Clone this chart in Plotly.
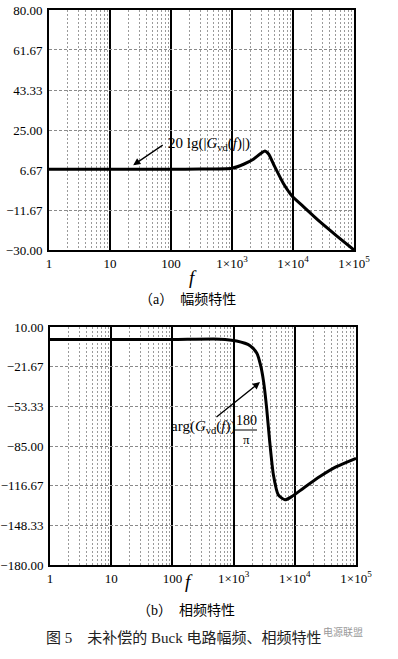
import math
import plotly.graph_objects as go

W, H = 398, 659

# ---------------- data ----------------
mag_freq = [1, 10, 100, 300, 1000, 1550, 2240, 2880, 3470, 3980, 5010, 6920, 9550, 14800, 27500, 52500, 100000]
mag_db = [7.0, 7.0, 7.0, 7.1, 7.5, 9.3, 11.6, 14.0, 15.4, 14.0, 8.2, 0.6, -5.1, -10.1, -17.0, -23.6, -30.0]

ph_freq = [1, 10, 100, 600, 1120, 1860, 2400, 2750, 3090, 3470, 3890, 4470, 5370, 6920, 8910, 13800, 25700, 47900, 100000]
ph_deg = [0.0, 0.0, 0.0, 0.3, -1.2, -4.9, -11.0, -20.3, -33.6, -54.9, -81.5, -108.0, -124.0, -128.0, -125.4, -118.7, -109.4, -101.5, -94.8]

x_major = [1, 10, 100, 1000, 10000, 100000]
x_major_text = ["1", "10", "100", "1×10<sup>3</sup>", "1×10<sup>4</sup>", "1×10<sup>5</sup>"]
x_minor = [m * 10 ** k for k in range(5) for m in range(2, 10)]

mag_ticks = [80, 61.67, 43.33, 25, 6.67, -11.67, -30]
mag_ticktext = ["80.00", "61.67", "43.33", "25.00", "6.67", "−11.67", "−30.00"]
ph_ticks = [10, -21.67, -53.33, -85, -116.67, -148.33, -180]
ph_ticktext = ["10.00", "−21.67", "−53.33", "−85.00", "−116.67", "−148.33", "−180.00"]

# annotation anchor points (frequency, value) where the arrows point
mag_label_point = (24, 8.9)
ph_label_point = (2700, -34)

# ---------------- helpers ----------------
def px(x):
    return x / W

def py(y):
    return 1 - y / H

SERIF = "Liberation Serif, Noto Sans CJK SC"
tickfont = dict(family="Liberation Serif", size=13, color="black")

fig = go.Figure()
fig.add_trace(go.Scatter(x=mag_freq, y=mag_db, mode="lines", line=dict(color="black", width=3, shape="spline", smoothing=0.6),
                         xaxis="x", yaxis="y", showlegend=False, hoverinfo="skip"))
fig.add_trace(go.Scatter(x=ph_freq, y=ph_deg, mode="lines", line=dict(color="black", width=3, shape="spline", smoothing=0.6),
                         xaxis="x2", yaxis="y2", showlegend=False, hoverinfo="skip"))

def xaxis_cfg(domain, anchor):
    return dict(type="log", range=[0, 5], domain=domain, anchor=anchor, automargin=False,
                tickvals=x_major, ticktext=x_major_text, tickfont=tickfont,
                showgrid=True, gridcolor="black", gridwidth=2.2,
                ticks="", showline=True, linecolor="black", linewidth=2, mirror=True,
                zeroline=False, fixedrange=True,
                minor=dict(tickvals=x_minor, showgrid=True, gridcolor="#9a9a9a", gridwidth=1, griddash="2px,2px", ticks=""))

def yaxis_cfg(domain, anchor, rng, tv, tt):
    return dict(range=rng, domain=domain, anchor=anchor, automargin=False,
                tickvals=tv, ticktext=tt, tickfont=tickfont,
                showgrid=True, gridcolor="#8a8a8a", gridwidth=1, griddash="3px,2px",
                ticks="", ticklabelstandoff=2, showline=True, linecolor="black", linewidth=2, mirror=True,
                zeroline=False, fixedrange=True)

fig.update_layout(
    width=W, height=H, autosize=False,
    margin=dict(l=0, r=0, t=0, b=0, pad=0, autoexpand=False),
    paper_bgcolor="white", plot_bgcolor="white",
    xaxis=xaxis_cfg([px(49), px(354)], "y"),
    yaxis=yaxis_cfg([py(250), py(10)], "x", [-30, 80], mag_ticks, mag_ticktext),
    xaxis2=xaxis_cfg([px(50), px(356)], "y2"),
    yaxis2=yaxis_cfg([py(565), py(327)], "x2", [-180, 10], ph_ticks, ph_ticktext),
)

anns = []
# axis titles "f"
for (xx, yy) in [(193, 277), (189, 594)]:
    anns.append(dict(x=px(xx), y=py(yy), xref="paper", yref="paper", showarrow=False,
                     text="<i>f</i>", font=dict(family="Liberation Serif", size=19, color="black")))
# sub captions
anns.append(dict(x=px(187), y=py(300), xref="paper", yref="paper", showarrow=False,
                 text="（a）  幅频特性", font=dict(family=SERIF, size=14, color="black")))
anns.append(dict(x=px(186), y=py(620), xref="paper", yref="paper", showarrow=False,
                 text="（b）  相频特性", font=dict(family=SERIF, size=14, color="black")))
anns.append(dict(x=px(183), y=py(648), xref="paper", yref="paper", showarrow=False,
                 text="图 5　未补偿的 Buck 电路幅频、相频特性", font=dict(family=SERIF, size=15, color="#222")))
anns.append(dict(x=px(365), y=py(641), xref="paper", yref="paper", showarrow=False,
                 text="电源联盟", font=dict(family="Noto Sans CJK SC", size=10, color="#999")))

# curve labels
anns.append(dict(x=px(166), y=py(133), xref="paper", yref="paper", xanchor="left", showarrow=False,
                 text="20 lg(|<i>G</i><sub>vd</sub>(<i>f</i>)|)", font=dict(family="Liberation Serif", size=15, color="black")))
anns.append(dict(x=px(169), y=py(427), xref="paper", yref="paper", xanchor="left", showarrow=False,
                 text="arg(<i>G</i><sub>vd</sub>(<i>f</i>))", font=dict(family="Liberation Serif", size=15, color="black")))
anns.append(dict(x=px(246), y=py(420), xref="paper", yref="paper", showarrow=False,
                 text="180", font=dict(family="Liberation Serif", size=14, color="black")))
anns.append(dict(x=px(246), y=py(439), xref="paper", yref="paper", showarrow=False,
                 text="π", font=dict(family="Liberation Serif", size=13, color="black")))

# arrows (log axis: annotation x in log10 units)
anns.append(dict(x=math.log10(mag_label_point[0]), y=mag_label_point[1], xref="x", yref="y", ax=31, ay=-21,
                 showarrow=True, text=" ", font=dict(size=1),
                 arrowhead=2, arrowsize=1.1, arrowwidth=1.3, arrowcolor="black"))
anns.append(dict(x=math.log10(ph_label_point[0]), y=ph_label_point[1], xref="x2", yref="y2", ax=-45, ay=36,
                 showarrow=True, text=" ", font=dict(size=1),
                 arrowhead=2, arrowsize=1.1, arrowwidth=1.3, arrowcolor="black"))

fig.update_layout(annotations=anns)
fig.add_shape(type="line", xref="paper", yref="paper", x0=px(235), x1=px(257), y0=py(430), y1=py(430),
              line=dict(color="black", width=1))

fig.write_html("out.html", config={"displayModeBar": False},
               post_script="document.body.style.margin='0';document.body.style.padding='0';")
